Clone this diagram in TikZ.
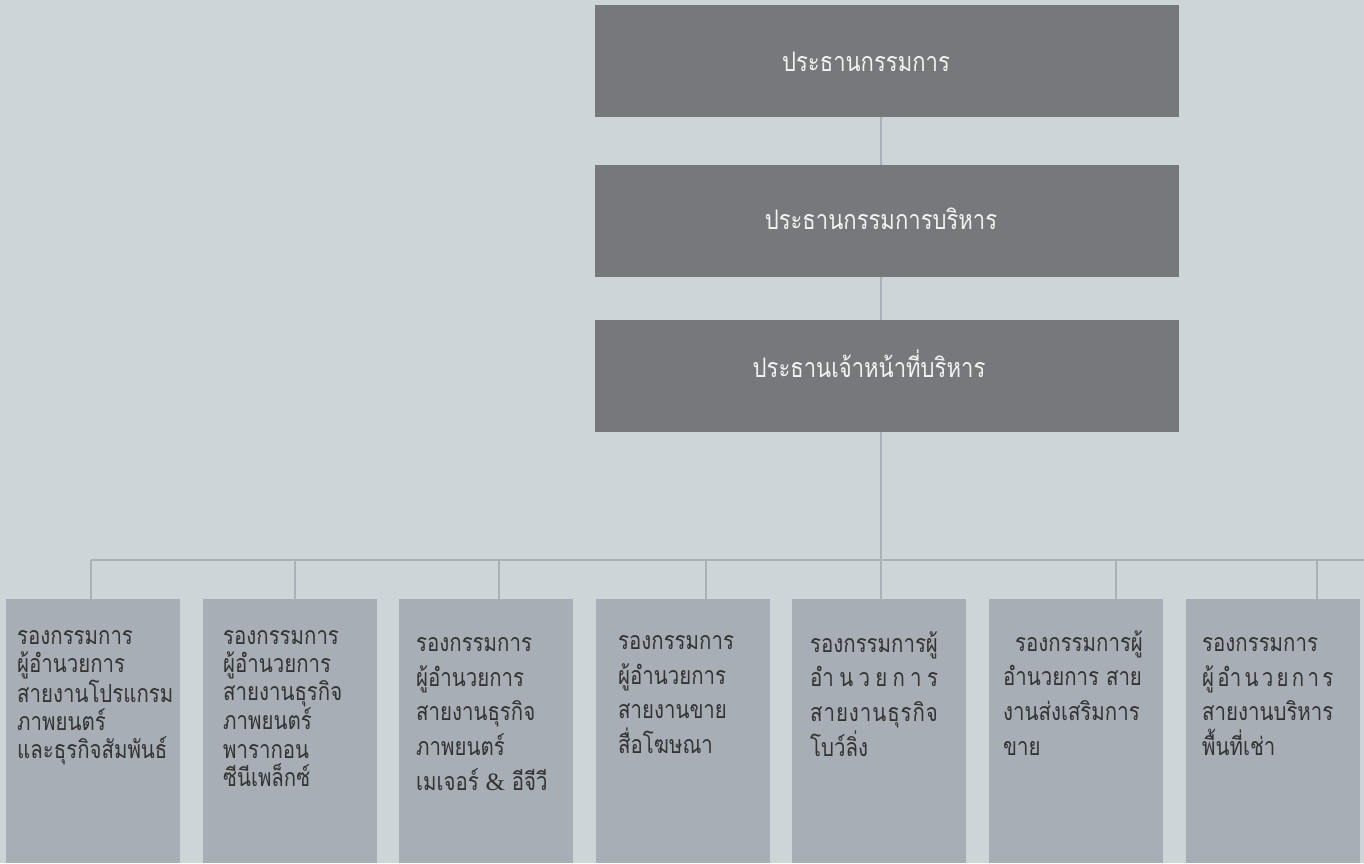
\documentclass[tikz,border=0pt]{standalone}
\usepackage{fontspec}
\usepackage{calc}
\newfontfamily\thaifont[Script=Thai,FakeStretch=0.82]{Loma}
\newfontfamily\ampfont{Liberation Serif}
\definecolor{bgc}{HTML}{CDD5D8}
\definecolor{topc}{HTML}{77787C}
\definecolor{botc}{HTML}{A8AEB5}
\definecolor{linec}{HTML}{A9B0B7}
\definecolor{toptext}{HTML}{F2F2F2}
\definecolor{bottext}{HTML}{333333}
\newcommand{\jline}[2]{\makebox[\widthof{#1}][s]{#2}}
\newcommand{\firstln}{\rule{0pt}{20bp}}
\newcommand{\toptxt}[3]{\raisebox{#1}[0pt][0pt]{#3}\hspace*{#2}}
\tikzset{
  topbox/.style={rectangle, fill=topc, minimum width=584bp, minimum height=112bp, inner sep=0pt,
    text=toptext, font=\thaifont\fontsize{27}{30}\selectfont},
  botbox/.style={rectangle, fill=botc, minimum width=174bp, minimum height=264bp, inner sep=0pt, anchor=north west},
  bottxt/.style={anchor=north west, inner sep=0pt, align=left, text=bottext},
  wide/.style={font=\thaifont\fontsize{25}{35}\selectfont},
  tight/.style={font=\thaifont\fontsize{25}{28.3}\selectfont},
  conn/.style={draw=linec, line width=2.8bp}
}
\begin{document}
\begin{tikzpicture}[x=1bp,y=-1bp]
\useasboundingbox (0,0) rectangle (1364,863);
\fill[bgc] (0,0) rectangle (1364,863);

% top boxes
\node[topbox] (top1) at (887,61) {\toptxt{-10bp}{42bp}{ประธานกรรมการ}};
\node[topbox] (top2) at (887,221) {\toptxt{-8bp}{12bp}{ประธานกรรมการบริหาร}};
\node[topbox] (top3) at (887,376) {\toptxt{-1bp}{36bp}{ประธานเจ้าหน้าที่บริหาร}};

% bottom boxes
\node[botbox] (b1) at (6,599) {};
\node[botbox] (b2) at (203,599) {};
\node[botbox] (b3) at (399,599) {};
\node[botbox] (b4) at (596,599) {};
\node[botbox] (b5) at (792,599) {};
\node[botbox] (b6) at (989,599) {};
\node[botbox] (b7) at (1186,599) {};

% bus coordinates
\coordinate (bus) at (881,560);
\coordinate (busR) at (1364,560);
\coordinate (k1) at (91,560);
\coordinate (k2) at (295,560);
\coordinate (k3) at (499,560);
\coordinate (k4) at (706,560);
\coordinate (k5) at (881,560);
\coordinate (k6) at (1116,560);
\coordinate (k7) at (1317,560);

% connectors
\draw[conn] (top1.south -| bus) -- (top2.north -| bus);
\draw[conn] (top2.south -| bus) -- (top3.north -| bus);
\draw[conn] (top3.south -| bus) -- (b5.north -| bus);
\draw[conn] (k1) -- (busR);
\foreach \i in {1,2,3,4,6,7} {
  \draw[conn] (k\i) -- (b\i.north -| k\i);
}

% bottom texts
\node[bottxt, tight] (t1) at ([shift={(11,25)}]b1.north west)
  {\firstln รองกรรมการ\\ผู้อำนวยการ\\สายงานโปรแกรม\\ภาพยนตร์\\และธุรกิจสัมพันธ์};
\node[bottxt, tight] (t2) at ([shift={(20,25)}]b2.north west)
  {\firstln รองกรรมการ\\ผู้อำนวยการ\\สายงานธุรกิจ\\ภาพยนตร์\\พารากอน\\ซีนีเพล็กซ์};
\node[bottxt, wide] (t3) at ([shift={(17,32)}]b3.north west)
  {\firstln รองกรรมการ\\ผู้อำนวยการ\\สายงานธุรกิจ\\ภาพยนตร์\\เมเจอร์ {\ampfont\&} อีจีวี};
\node[bottxt, wide] (t4) at ([shift={(22,30)}]b4.north west)
  {\firstln รองกรรมการ\\ผู้อำนวยการ\\สายงานขาย\\สื่อโฆษณา};
\node[bottxt, wide] (t5) at ([shift={(18,32)}]b5.north west)
  {\firstln รองกรรมการผู้\\\jline{รองกรรมการผู้}{อำ\hfil น\hfil ว\hfil ย\hfil ก\hfil า\hfil ร}\\\jline{รองกรรมการผู้}{ส\hfil า\hfil ย\hfil ง\hfil า\hfil น\hfil ธุ\hfil ร\hfil กิ\hfil จ}\\โบว์ลิ่ง};
\node[bottxt, wide] (t6) at ([shift={(14,31)}]b6.north west)
  {\firstln\hspace*{12bp}รองกรรมการผู้\\อำนวยการ สาย\\งานส่งเสริมการ\\ขาย};
\node[bottxt, wide] (t7) at ([shift={(16,32)}]b7.north west)
  {\firstln รองกรรมการ\\\jline{สายงานบริหาร}{ผู้\hfil อำ\hfil น\hfil ว\hfil ย\hfil ก\hfil า\hfil ร}\\สายงานบริหาร\\พื้นที่เช่า};
\end{tikzpicture}
\end{document}
